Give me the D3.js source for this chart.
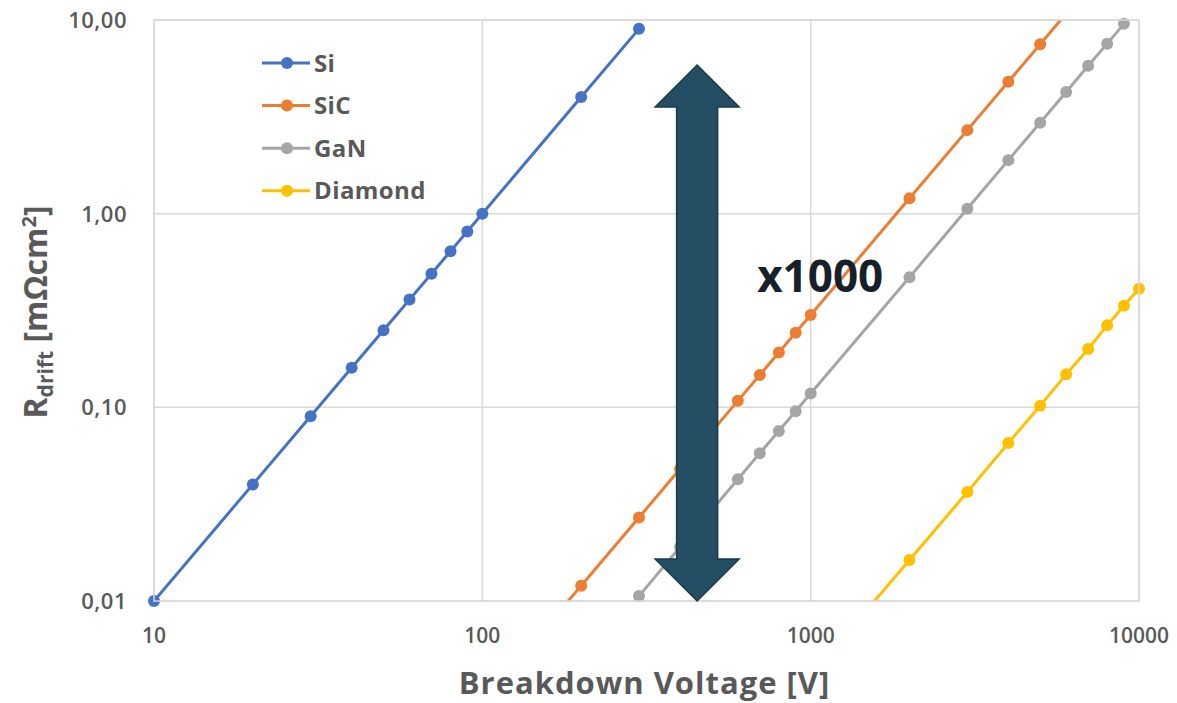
<!DOCTYPE html>
<html>
<head>
<meta charset="utf-8">
<script src="https://cdn.jsdelivr.net/npm/d3@7"></script>
<style>
  html, body { margin: 0; padding: 0; background: #fff; }
  svg { display: block; font-family: "Open Sans", "Noto Sans", sans-serif; }
</style>
</head>
<body>
<svg id="chart" width="1177" height="703"></svg>
<script>
// --- data ---
const siVolts = [10, 20, 30, 40, 50, 60, 70, 80, 90, 100, 200, 300];
const siValues = [0.01, 0.04, 0.09, 0.16, 0.25, 0.36, 0.49, 0.64, 0.81, 1.0, 4.0, 9.0];

const sicVolts = [100, 200, 300, 400, 500, 600, 700, 800, 900, 1000, 2000, 3000, 4000, 5000, 6000];
const sicValues = [0.003, 0.012, 0.027, 0.048, 0.075, 0.108, 0.147, 0.192, 0.243, 0.3, 1.2, 2.7, 4.8, 7.5, 10.8];

const ganVolts = [200, 300, 400, 500, 600, 700, 800, 900, 1000, 2000, 3000, 4000, 5000, 6000, 7000, 8000, 9000, 10000];
const ganValues = [0.0047, 0.0106, 0.019, 0.0295, 0.0425, 0.058, 0.0755, 0.0955, 0.118, 0.47, 1.06, 1.89, 2.95, 4.25, 5.8, 7.55, 9.55, 11.8];

const diamondVolts = [1000, 2000, 3000, 4000, 5000, 6000, 7000, 8000, 9000, 10000];
const diamondValues = [0.0041, 0.0163, 0.0365, 0.0654, 0.102, 0.148, 0.2, 0.265, 0.335, 0.41];

const seriesNames = ["Si", "SiC", "GaN", "Diamond"];
const seriesColors = ["#4472c4", "#ed7d31", "#a5a5a5", "#ffc000"];

const xTicks = [10, 100, 1000, 10000];
const xTickLabels = ["10", "100", "1000", "10000"];
const yTicks = [0.01, 0.1, 1, 10];
const yTickLabels = ["0,01", "0,10", "1,00", "10,00"];

// annotation: double arrow spanning the Si -> Diamond gap
const arrowVolt = 451;
const arrowTop = 5.85;
const arrowBottom = 0.01;
const annotationText = "x1000";

const series = [
  { name: seriesNames[0], volts: siVolts, values: siValues },
  { name: seriesNames[1], volts: sicVolts, values: sicValues },
  { name: seriesNames[2], volts: ganVolts, values: ganValues },
  { name: seriesNames[3], volts: diamondVolts, values: diamondValues },
];

// --- layout ---
const margin = { top: 20, left: 154, right: 38, bottom: 102 };
const W = 1177, H = 703;
const innerW = W - margin.left - margin.right;
const innerH = H - margin.top - margin.bottom;
const gridColor = "#d9d9d9";
const textColor = "#595959";

const svg = d3.select("#chart");
const g = svg.append("g").attr("transform", `translate(${margin.left},${margin.top})`);

const x = d3.scaleLog().domain([10, 10000]).range([0, innerW]);
const y = d3.scaleLog().domain([0.01, 10]).range([innerH, 0]);

svg.append("defs").append("clipPath").attr("id", "plot-clip")
  .append("rect").attr("width", innerW).attr("height", innerH);

// gridlines
g.selectAll(".hgrid").data(yTicks).enter().append("line")
  .attr("x1", 0).attr("x2", innerW)
  .attr("y1", d => y(d)).attr("y2", d => y(d))
  .attr("stroke", gridColor).attr("stroke-width", 1.5);

g.selectAll(".vgrid").data(xTicks).enter().append("line")
  .attr("y1", 0).attr("y2", innerH)
  .attr("x1", d => x(d)).attr("x2", d => x(d))
  .attr("stroke", gridColor).attr("stroke-width", 1.5);

// tick labels
g.selectAll(".ylab").data(yTicks).enter().append("text")
  .attr("x", -27).attr("y", d => y(d))
  .attr("dy", "0.36em")
  .attr("text-anchor", "end")
  .attr("font-size", 22).attr("font-weight", 600)
  .attr("letter-spacing", 0.5)
  .attr("fill", textColor)
  .text((d, i) => yTickLabels[i]);

g.selectAll(".xlab").data(xTicks).enter().append("text")
  .attr("x", d => x(d)).attr("y", innerH + 42)
  .attr("text-anchor", "middle")
  .attr("font-size", 21).attr("font-weight", 600)
  .attr("fill", textColor)
  .text((d, i) => xTickLabels[i]);

// axis titles
svg.append("text")
  .attr("x", margin.left + innerW / 2 - 2).attr("y", 694)
  .attr("text-anchor", "middle")
  .attr("font-size", 31).attr("font-weight", "bold")
  .attr("letter-spacing", 1)
  .attr("fill", textColor)
  .text("Breakdown Voltage [V]");

const yTitle = svg.append("text")
  .attr("transform", "translate(47,312) rotate(-90)")
  .attr("text-anchor", "middle")
  .attr("font-size", 32).attr("font-weight", "bold")
  .attr("fill", textColor);
yTitle.append("tspan").text("R");
yTitle.append("tspan").attr("font-size", 21).attr("dy", 6).text("drift");
yTitle.append("tspan").attr("dy", -6).text(" [mΩcm");
yTitle.append("tspan").attr("font-size", 20).attr("dy", -11).text("2");
yTitle.append("tspan").attr("dy", 11).text("]");

// series lines and markers
const line = d3.line()
  .x(d => x(d[0]))
  .y(d => y(d[1]));

series.forEach((s, i) => {
  const pts = s.volts.map((v, j) => [v, s.values[j]]);
  g.append("path")
    .datum(pts)
    .attr("clip-path", "url(#plot-clip)")
    .attr("fill", "none")
    .attr("stroke", seriesColors[i])
    .attr("stroke-width", 3)
    .attr("d", line);

  const visible = pts.filter(p => p[1] >= 0.0099 && p[1] <= 10.01 && p[0] >= 10 && p[0] <= 10000);
  g.selectAll(`.pt-${i}`).data(visible).enter().append("circle")
    .attr("cx", d => x(d[0])).attr("cy", d => y(d[1]))
    .attr("r", 6)
    .attr("fill", seriesColors[i]);
});

// plot border
g.append("rect")
  .attr("width", innerW).attr("height", innerH)
  .attr("fill", "none").attr("stroke", gridColor).attr("stroke-width", 1.5);

// legend
const legend = svg.append("g").attr("transform", "translate(262,63)");
seriesNames.forEach((name, i) => {
  const row = legend.append("g").attr("transform", `translate(0,${i * 42.6})`);
  row.append("line").attr("x1", 0).attr("x2", 48).attr("y1", 0).attr("y2", 0)
    .attr("stroke", seriesColors[i]).attr("stroke-width", 3);
  row.append("circle").attr("cx", 25).attr("cy", 0).attr("r", 6).attr("fill", seriesColors[i]);
  row.append("text").attr("x", 52).attr("y", 0).attr("dy", "0.36em")
    .attr("font-size", 24).attr("font-weight", "bold").attr("fill", textColor)
    .attr("letter-spacing", 0.4)
    .text(name);
});

// double arrow annotation
const ax = x(arrowVolt), yTop = y(arrowTop), yBot = y(arrowBottom);
const shaftHalf = 20.5, headHalf = 42, headLen = 42;
const arrowPts = [
  [ax, yTop],
  [ax + headHalf, yTop + headLen],
  [ax + shaftHalf, yTop + headLen],
  [ax + shaftHalf, yBot - headLen],
  [ax + headHalf, yBot - headLen],
  [ax, yBot],
  [ax - headHalf, yBot - headLen],
  [ax - shaftHalf, yBot - headLen],
  [ax - shaftHalf, yTop + headLen],
  [ax - headHalf, yTop + headLen],
];
g.append("polygon")
  .attr("points", arrowPts.map(p => p.join(",")).join(" "))
  .attr("fill", "#234e63")
  .attr("stroke", "#1a3a4b")
  .attr("stroke-width", 1.5);

g.append("text")
  .attr("x", x(687)).attr("y", y(0.393))
  .attr("font-size", 44).attr("font-weight", "bold")
  .attr("fill", "#14212a")
  .text(annotationText);
</script>
</body>
</html>
